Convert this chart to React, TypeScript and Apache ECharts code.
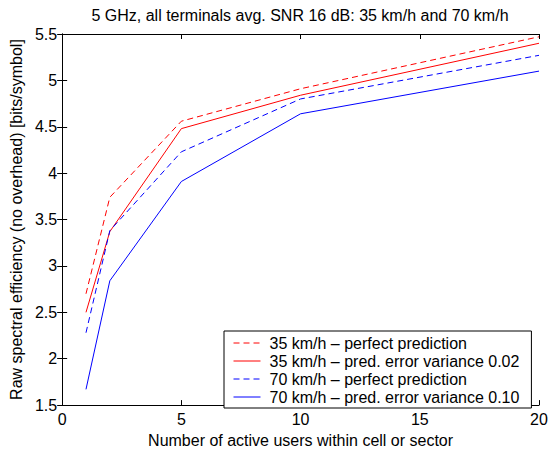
import React, { useEffect, useRef } from "react";
import * as echarts from "echarts";

const xUsers = [1, 2, 5, 10, 20];
const red35Perfect = [2.7, 3.74, 4.56, 4.91, 5.47];
const red35Err = [2.5, 3.37, 4.48, 4.84, 5.4];
const blue70Perfect = [2.28, 3.38, 4.23, 4.8, 5.27];
const blue70Err = [1.67, 2.84, 3.91, 4.64, 5.1];

const seriesNames = [
  "35 km/h \u2013 perfect prediction",
  "35 km/h \u2013 pred. error variance 0.02",
  "70 km/h \u2013 perfect prediction",
  "70 km/h \u2013 pred. error variance 0.10",
];
const seriesValues = [red35Perfect, red35Err, blue70Perfect, blue70Err];
const seriesColors = ["#ff0000", "#ff0000", "#0000ff", "#0000ff"];
const seriesDashed = [true, false, true, false];

const titleText = "5 GHz, all terminals avg. SNR 16 dB: 35 km/h and 70 km/h";
const xName = "Number of active users within cell or sector";
const yName = "Raw spectral efficiency (no overhead) [bits/symbol]";

const FONT = "'Liberation Sans', Arial, Helvetica, sans-serif";

export default function App() {
  const ref = useRef<HTMLDivElement>(null);
  useEffect(() => {
    if (!ref.current) return;
    const chart = echarts.init(ref.current, undefined, { renderer: "svg" });
    const axisLine = { show: true, lineStyle: { color: "#000", width: 1 } };
    const tick = { show: true, inside: true, length: 5, lineStyle: { color: "#000", width: 1 } };
    const label = { color: "#000", fontSize: 16, fontFamily: FONT };
    chart.setOption({
      animation: false,
      backgroundColor: "#fff",
      title: {
        text: titleText,
        left: 300,
        top: 7,
        padding: 0,
        textAlign: "center",
        textStyle: { fontSize: 16, fontWeight: "normal", color: "#000", fontFamily: FONT, lineHeight: 16 },
      },
      grid: { left: 60, right: 19, top: 34, bottom: 41, containLabel: false },
      legend: {
        orient: "vertical",
        left: 224,
        top: 331,
        padding: [4, 12, 3, 9],
        itemWidth: 27,
        itemHeight: 14,
        itemGap: 2,
        backgroundColor: "#fff",
        borderColor: "#000",
        borderWidth: 1,
        borderRadius: 0,
        textStyle: { color: "#000", fontSize: 16, lineHeight: 16, fontFamily: FONT, padding: [0, 0, 0, 4] },
        data: seriesNames.map((n, i) => ({
          name: n,
          itemStyle: { opacity: 0 },
          lineStyle: { type: seriesDashed[i] ? [6, 4] : "solid", color: seriesColors[i], width: 1 },
        })),
      },
      xAxis: [
        {
          type: "value",
          min: 0,
          max: 20,
          interval: 5,
          position: "bottom",
          name: xName,
          nameLocation: "middle",
          nameGap: 23,
          nameTextStyle: { color: "#000", fontSize: 16, lineHeight: 16, fontFamily: FONT },
          axisLine,
          axisTick: tick,
          axisLabel: { ...label, margin: 6 },
          splitLine: { show: false },
        },
        {
          type: "value",
          min: 0,
          max: 20,
          interval: 5,
          position: "top",
          axisLine,
          axisTick: tick,
          axisLabel: { show: false },
          splitLine: { show: false },
        },
      ],
      yAxis: [
        {
          type: "value",
          min: 1.5,
          max: 5.5,
          interval: 0.5,
          position: "left",
          name: yName,
          nameLocation: "middle",
          nameGap: 25,
          nameTextStyle: { color: "#000", fontSize: 16, lineHeight: 16, fontFamily: FONT },
          axisLine,
          axisTick: tick,
          axisLabel: { ...label, margin: 5 },
          splitLine: { show: false },
        },
        {
          type: "value",
          min: 1.5,
          max: 5.5,
          interval: 0.5,
          position: "right",
          axisLine,
          axisTick: tick,
          axisLabel: { show: false },
          splitLine: { show: false },
        },
      ],
      series: seriesNames.map((n, i) => ({
        name: n,
        type: "line",
        xAxisIndex: 0,
        yAxisIndex: 0,
        symbol: "none",
        color: seriesColors[i],
        lineStyle: { color: seriesColors[i], width: 1, type: seriesDashed[i] ? [6, 4] : "solid" },
        data: xUsers.map((x, j) => [x, seriesValues[i][j]]),
      })),
    });
    return () => chart.dispose();
  }, []);
  return (
    <div
      ref={ref}
      style={{ position: "fixed", left: 0, top: 0, width: 558, height: 453, background: "#fff" }}
    />
  );
}
